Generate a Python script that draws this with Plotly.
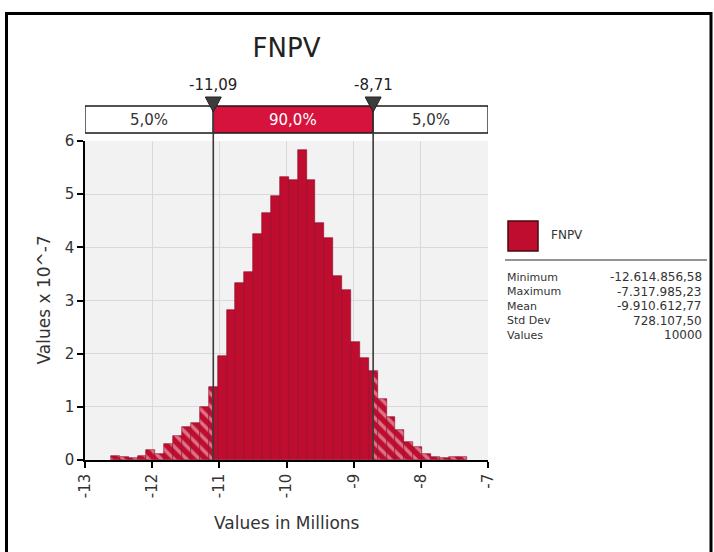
import numpy as np
import plotly.graph_objects as go

# ---------------- data ----------------
chart_title = "FNPV"
x_min = -12.61485658          # millions
x_max = -7.31798523           # millions
n_bins = 40
density = [0.07, 0.06, 0.04, 0.08, 0.19, 0.12, 0.30, 0.46, 0.63, 0.70, 1.00,
           1.37, 1.95, 2.82, 3.32, 3.54, 4.25, 4.64, 4.97, 5.32, 5.27,
           5.84, 5.27, 4.45, 4.17, 3.46, 3.20, 2.22, 1.92, 1.67,
           1.15, 0.80, 0.56, 0.33, 0.24, 0.12, 0.06, 0.04, 0.05, 0.06]
q_low = -11.09
q_high = -8.71
q_low_label = "-11,09"
q_high_label = "-8,71"
band_labels = ["5,0%", "90,0%", "5,0%"]
x_ticks = [-13, -12, -11, -10, -9, -8, -7]
x_tick_text = ["-13", "-12", "-11", "-10", "-9", "-8", "-7"]
y_ticks = [0, 1, 2, 3, 4, 5, 6]
stat_names = ["Minimum", "Maximum", "Mean", "Std Dev", "Values"]
stat_values = ["-12.614.856,58", "-7.317.985,23", "-9.910.612,77", "728.107,50", "10000"]
x_title = "Values in Millions"
y_title = "Values x 10^-7"

# ---------------- styles ----------------
RED = "#BF0D30"
RED_DARK = "#8A0A23"
BAND_RED = "#D5133C"
FONT = "DejaVu Sans"
W, H = 714, 552
L, R, T, B = 85, 226, 141, 92
PW, PH = W - L - R, H - T - B


def px_x(px):
    return (px - L) / PW


def px_y(py):
    return (H - B - py) / PH


# ---------------- build bar segments (split at the quantile lines) ----------------
edges = np.linspace(x_min, x_max, n_bins + 1)
groups = {"left": ([], [], []), "mid": ([], [], []), "right": ([], [], [])}
for i in range(n_bins):
    a, b = edges[i], edges[i + 1]
    cuts = [a] + [c for c in (q_low, q_high) if a < c < b] + [b]
    for lo, hi in zip(cuts[:-1], cuts[1:]):
        m = (lo + hi) / 2
        key = "left" if m < q_low else ("right" if m > q_high else "mid")
        groups[key][0].append(m)
        groups[key][1].append(density[i])
        groups[key][2].append(hi - lo)

fig = go.Figure()
for key, shape in (("left", "\\"), ("mid", ""), ("right", "\\")):
    xs, ys, ws = groups[key]
    marker = dict(color=RED, line=dict(color=RED_DARK, width=0.6))
    if shape:
        marker["pattern"] = dict(shape=shape, fgcolor="rgba(255,228,232,0.95)",
                                 fillmode="overlay", size=9, solidity=0.38)
    fig.add_trace(go.Bar(x=xs, y=ys, width=ws, marker=marker,
                         showlegend=False, hoverinfo="x+y"))

shapes = []
# percentile band
band_y0, band_y1 = px_y(133), px_y(106)
for (x0, x1), fill in zip([(x_ticks[0], q_low), (q_low, q_high), (q_high, x_ticks[-1])],
                          ["white", BAND_RED, "white"]):
    shapes.append(dict(type="rect", xref="x", yref="paper", x0=x0, x1=x1,
                       y0=band_y0, y1=band_y1, fillcolor=fill,
                       line=dict(color="#1A1A1A", width=1.3), layer="above"))
# quantile lines and triangles
half = 8 / (PW / (x_ticks[-1] - x_ticks[0]))
for q in (q_low, q_high):
    shapes.append(dict(type="line", xref="x", yref="paper", x0=q, x1=q,
                       y0=0, y1=band_y1, line=dict(color="#3A3A3A", width=1.6),
                       layer="above"))
    shapes.append(dict(type="path", xref="x", yref="paper",
                       path=f"M {q-half},{px_y(97)} L {q+half},{px_y(97)} L {q},{px_y(112)} Z",
                       fillcolor="#3C3C3C", line=dict(color="#222222", width=1),
                       layer="above"))
# legend square and separator
shapes.append(dict(type="rect", xref="paper", yref="paper",
                   x0=px_x(508), x1=px_x(538), y0=px_y(251), y1=px_y(221),
                   fillcolor=RED, line=dict(color="#4A0812", width=1.5)))
shapes.append(dict(type="line", xref="paper", yref="paper",
                   x0=px_x(505), x1=px_x(707), y0=px_y(260), y1=px_y(260),
                   line=dict(color="#707070", width=1.5)))
# outer frame
shapes.append(dict(type="rect", xref="paper", yref="paper",
                   x0=px_x(6.5), x1=px_x(711), y0=px_y(580), y1=px_y(13.5),
                   line=dict(color="black", width=3), fillcolor="rgba(0,0,0,0)"))

annotations = []
# band labels
for (x0, x1), txt, col in zip([(x_ticks[0], q_low), (q_low, q_high), (q_high, x_ticks[-1])],
                              band_labels, ["#333333", "white", "#333333"]):
    annotations.append(dict(x=(x0 + x1) / 2, y=(band_y0 + band_y1) / 2, xref="x", yref="paper",
                            xanchor="center", yanchor="middle",
                            text=txt, showarrow=False, font=dict(family=FONT, size=15, color=col)))
for q, txt in ((q_low, q_low_label), (q_high, q_high_label)):
    annotations.append(dict(x=q, y=px_y(85), xref="x", yref="paper", text=txt,
                            xanchor="center", yanchor="middle",
                            showarrow=False, font=dict(family=FONT, size=15, color="#222222")))
# axis titles
annotations.append(dict(x=0.5, y=px_y(523), xref="paper", yref="paper", text=x_title,
                        xanchor="center", yanchor="middle",
                        showarrow=False, font=dict(family=FONT, size=17, color="#333333")))
annotations.append(dict(x=px_x(43), y=0.5, xref="paper", yref="paper", text=y_title,
                        xanchor="center", yanchor="middle",
                        textangle=-90, showarrow=False,
                        font=dict(family=FONT, size=17, color="#333333")))
# legend text
annotations.append(dict(x=px_x(549), y=px_y(235), xref="paper", yref="paper", text=chart_title,
                        xanchor="left", yanchor="middle", showarrow=False,
                        font=dict(family=FONT, size=12, color="#333333")))
for i, (nm, val) in enumerate(zip(stat_names, stat_values)):
    yy = px_y(277 + 14.5 * i)
    annotations.append(dict(x=px_x(505), y=yy, xref="paper", yref="paper", text=nm,
                            xanchor="left", yanchor="middle", showarrow=False,
                            font=dict(family=FONT, size=11, color="#333333")))
    annotations.append(dict(x=px_x(704), y=yy, xref="paper", yref="paper", text=val,
                            xanchor="right", yanchor="middle", showarrow=False,
                            font=dict(family=FONT, size=12, color="#333333")))

fig.update_layout(
    width=W, height=H,
    margin=dict(l=L, r=R, t=T, b=B),
    paper_bgcolor="white", plot_bgcolor="#F2F2F2",
    bargap=0, barmode="overlay", showlegend=False,
    font=dict(family=FONT, color="#333333"),
    title=dict(text=chart_title, x=0.5, xref="paper", xanchor="center",
               y=1 - 48 / H, yref="container", yanchor="middle",
               font=dict(family=FONT, size=26, color="#222222")),
    xaxis=dict(range=[x_ticks[0], x_ticks[-1]], tickvals=x_ticks, ticktext=x_tick_text,
               tickangle=-90,
               ticks="outside", ticklen=6, tickwidth=1.5, tickcolor="black",
               showline=True, linecolor="black", linewidth=1.5,
               showgrid=True, gridcolor="#D9D9D9", gridwidth=1, zeroline=False,
               tickfont=dict(family=FONT, size=15, color="#333333")),
    yaxis=dict(range=[y_ticks[0], y_ticks[-1]], tickvals=y_ticks,
               ticks="outside", ticklen=6, tickwidth=1.5, tickcolor="black",
               showline=True, linecolor="black", linewidth=1.5,
               showgrid=True, gridcolor="#D9D9D9", gridwidth=1, zeroline=False,
               tickfont=dict(family=FONT, size=15, color="#333333")),
    shapes=shapes, annotations=annotations,
)

fig.write_html("out.html", config={"displayModeBar": False},
               post_script="document.body.style.margin='0px';document.body.style.overflow='hidden';")
